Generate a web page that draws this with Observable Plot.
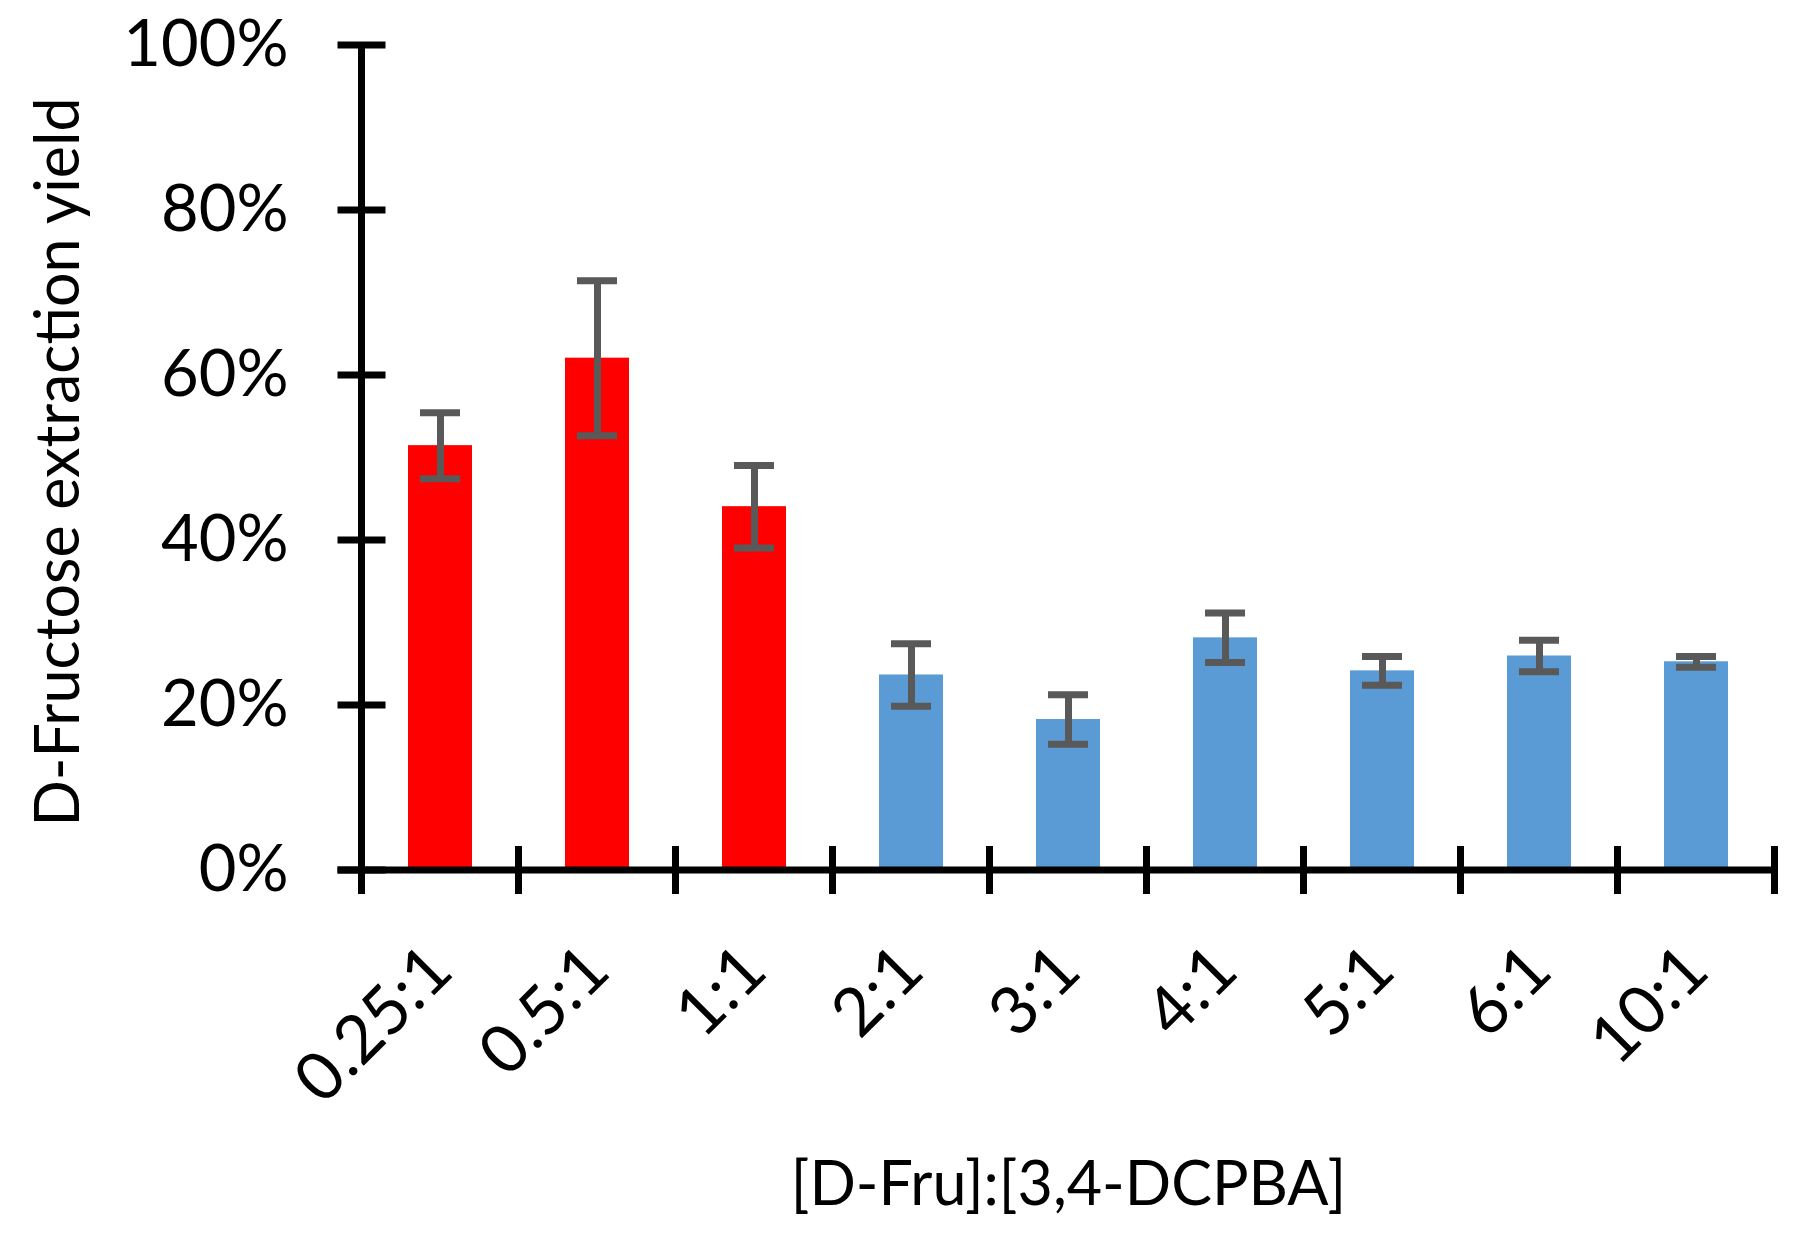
<!DOCTYPE html>
<html><head><meta charset="utf-8">
<script src="https://cdn.jsdelivr.net/npm/d3@7"></script>
<script src="https://cdn.jsdelivr.net/npm/@observablehq/plot@0.6"></script>
<style>html,body{margin:0;padding:0;background:#fff;} #chart svg{display:block}</style>
</head><body><div id="chart"></div>
<script>
// ---- data ----
const ratios = ["0.25:1","0.5:1","1:1","2:1","3:1","4:1","5:1","6:1","10:1"];
const yieldMean = [0.515,0.621,0.441,0.237,0.183,0.282,0.242,0.260,0.253];
const yieldErr  = [0.040,0.094,0.050,0.038,0.030,0.030,0.0175,0.019,0.0065];
const regime    = ["low","low","low","high","high","high","high","high","high"];
const yTicks    = [0,0.2,0.4,0.6,0.8,1.0];
const xTitle = "[D-Fru]:[3,4-DCPBA]";
const yTitle = "D-Fructose extraction yield";

const data = ratios.map((r,i)=>({ratio:r, value:yieldMean[i], lo:yieldMean[i]-yieldErr[i], hi:yieldMean[i]+yieldErr[i], regime:regime[i]}));

// ---- layout / style ----
const W=1811, H=1241, mL=359, mR=34, mT=45, mB=371;
const FONT = "Lato, 'Open Sans', sans-serif";
const AXW = 7, TICKLEN = 24, ERR = "#595959";

function axisLines(index, scales) {
  const x = scales.x, y = scales.y;
  const step = x.step ? x.step() : (x(ratios[1]) - x(ratios[0]));
  const bw = x.bandwidth ? x.bandwidth() : step*0.4;
  const bounds = ratios.map(r => x(r) + bw/2 - step/2);
  bounds.push(x(ratios[ratios.length-1]) + bw/2 + step/2);
  const x0 = bounds[0], x1 = bounds[bounds.length-1];
  const y0 = y(0), yTop = y(yTicks[yTicks.length-1]);
  const g = d3.create("svg:g").attr("stroke","#000").attr("stroke-width",AXW).attr("fill","none");
  g.append("line").attr("x1",x0).attr("x2",x0).attr("y1",yTop).attr("y2",y0);
  g.append("line").attr("x1",x0 - TICKLEN).attr("x2",x1).attr("y1",y0).attr("y2",y0);
  for (const t of yTicks) g.append("line").attr("x1",x0-TICKLEN).attr("x2",x0+TICKLEN).attr("y1",y(t)).attr("y2",y(t));
  for (const b of bounds) g.append("line").attr("x1",b).attr("x2",b).attr("y1",y0-TICKLEN).attr("y2",y0+TICKLEN);
  return g.node();
}

const chart = Plot.plot({
  width: W, height: H,
  marginLeft: mL, marginRight: mR, marginTop: mT, marginBottom: mB,
  style: {fontFamily: FONT, background: "#fff", color: "#000"},
  x: {type: "band", domain: ratios, paddingInner: 0.595, paddingOuter: 0.2975, axis: null},
  y: {domain: [0, 1], axis: null},
  color: {domain: ["low","high"], range: ["#FF0000","#5B9BD5"]},
  marks: [
    Plot.barY(data, {x: "ratio", y: "value", fill: "regime"}),
    Plot.ruleX(data, {x: "ratio", y1: "lo", y2: "hi", stroke: ERR, strokeWidth: 7}),
    Plot.tickY(data, {x: "ratio", y: "hi", stroke: ERR, strokeWidth: 7, insetLeft: 12, insetRight: 12}),
    Plot.tickY(data, {x: "ratio", y: "lo", stroke: ERR, strokeWidth: 7, insetLeft: 12, insetRight: 12}),
    axisLines,
    Plot.axisY({ticks: yTicks, tickFormat: d3.format(".0%"), tickSize: 0, tickPadding: 71, fontSize: 65, label: null}),
    Plot.axisX({tickSize: 0, tickRotate: -45, tickPadding: 88, fontSize: 67, label: null}),
    Plot.text([xTitle], {frameAnchor: "bottom", dy: 315, fontSize: 61, lineAnchor: "middle", textAnchor: "middle"}),
    Plot.text([yTitle], {frameAnchor: "left", dx: -300, dy: 4, rotate: -90, fontSize: 61, lineAnchor: "middle", textAnchor: "middle"})
  ]
});
document.getElementById("chart").append(chart);
</script>
</body></html>
